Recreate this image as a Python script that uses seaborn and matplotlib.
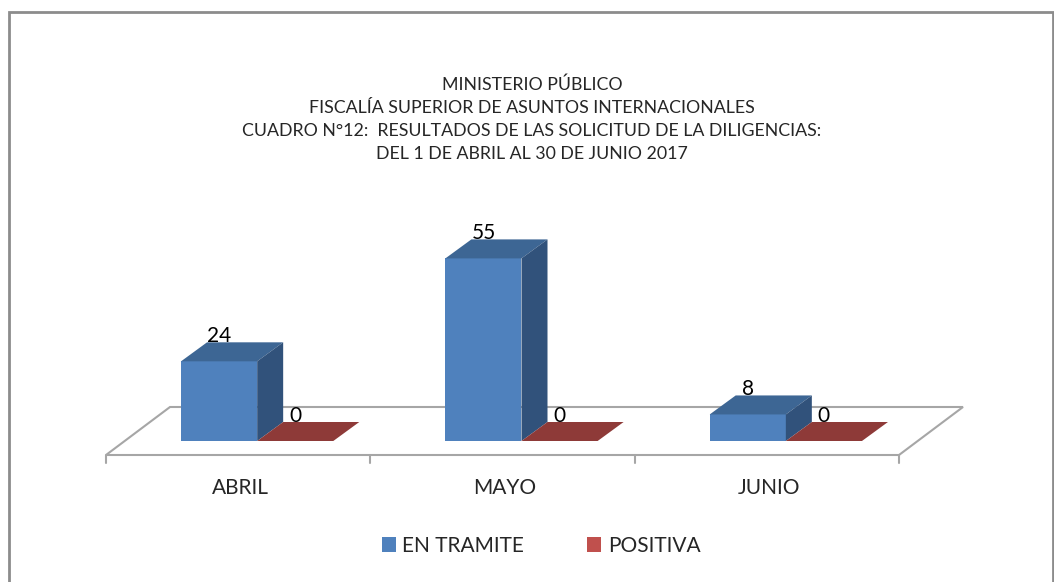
import pandas as pd
import matplotlib
matplotlib.use("Agg")
import matplotlib.pyplot as plt
import seaborn as sns
from matplotlib.patches import Polygon, Rectangle
from matplotlib.transforms import IdentityTransform, offset_copy

# Datos del cuadro
meses = ["ABRIL", "MAYO", "JUNIO"]
en_tramite = [24, 55, 8]
positiva = [0, 0, 0]
estados = ["EN TRAMITE", "POSITIVA"]
titulo = [
    "MINISTERIO PÚBLICO",
    "FISCALÍA SUPERIOR DE ASUNTOS INTERNACIONALES",
    "CUADRO N°12:  RESULTADOS DE LAS SOLICITUD DE LA DILIGENCIAS:",
    "DEL 1 DE ABRIL AL 30 DE JUNIO 2017",
]

df = pd.DataFrame({
    "Mes": meses * 2,
    "Estado": [estados[0]] * 3 + [estados[1]] * 3,
    "Valor": en_tramite + positiva,
})

sns.set_style("white")
plt.rcParams["font.family"] = ["Lato", "DejaVu Sans"]

W, H = 1054, 582
fig = plt.figure(figsize=(W / 100, H / 100), dpi=100)
fig.patch.set_facecolor("white")

# eje = plano frontal de las barras
ax = fig.add_axes([125 / W, 141 / H, 793 / W, 199.2 / H])
frente = ["#4F81BD", "#C0504D"]
arriba = ["#3D6694", "#8E3A38"]
lado = ["#31527B", "#7A302E"]
sns.barplot(data=df, x="Mes", y="Valor", hue="Estado", palette=frente,
            width=0.576, saturation=1, linewidth=0, ax=ax, legend=False)
ax.set_xlim(-0.5, 2.5)
ax.set_ylim(0, 60)
ax.axis("off")

def disp(x, y):
    return ax.transData.transform((x, y))

# piso en perspectiva
ident = IdentityTransform()
x0, y0 = disp(-0.5, 0)
x1, _ = disp(2.5, 0)
fd, bd = (-19, -14), (45, 34)
piso = [(x0 + fd[0], y0 + fd[1]), (x1 + fd[0], y0 + fd[1]),
        (x1 + bd[0], y0 + bd[1]), (x0 + bd[0], y0 + bd[1])]
ax.add_patch(Polygon(piso, closed=True, facecolor="white", edgecolor="#A6A6A6",
                     linewidth=1.5, transform=ident, clip_on=False, zorder=0.5))
for k in range(4):
    tx, ty = disp(-0.5 + k, 0)
    ax.plot([tx + fd[0], tx + fd[0]], [ty + fd[1], ty + fd[1] - 8],
            color="#A6A6A6", linewidth=1.5, transform=ident, clip_on=False)

# caras superior y lateral de cada barra
d = (26, 19)
for i, cont in enumerate(ax.containers):
    for p in cont.patches:
        bx, by, bw, bh = p.get_x(), p.get_y(), p.get_width(), p.get_height()
        tl = disp(bx, by + bh)
        tr = disp(bx + bw, by + bh)
        br = disp(bx + bw, by)
        top = [tl, tr, (tr[0] + d[0], tr[1] + d[1]), (tl[0] + d[0], tl[1] + d[1])]
        ax.add_patch(Polygon(top, closed=True, facecolor=arriba[i], linewidth=0,
                             transform=ident, clip_on=False, zorder=2))
        if bh > 0:
            side = [br, tr, (tr[0] + d[0], tr[1] + d[1]), (br[0] + d[0], br[1] + d[1])]
            ax.add_patch(Polygon(side, closed=True, facecolor=lado[i], linewidth=0,
                                 transform=ident, clip_on=False, zorder=2))
        ax.text(bx + bw / 2, by + bh, f"{int(bh)}",
                transform=offset_copy(ax.transData, fig=fig, x=0, y=25, units="dots"),
                ha="center", va="center", fontsize=15, color="black", zorder=3)

# etiquetas de categoría
lab_tr = offset_copy(ax.transData, fig=fig, x=-17, y=-47, units="dots")
for k, m in enumerate(meses):
    ax.text(k, 0, m, transform=lab_tr, ha="center", va="center", fontsize=15)

# título
for k, linea in enumerate(titulo):
    fig.text(532 / W, 1 - (85 + 23 * k) / H, linea, ha="center", va="center",
             fontsize=12.8)

# leyenda
handles = [Rectangle((0, 0), 1, 1, facecolor=c, linewidth=0) for c in frente]
fig.legend(handles, estados, loc="center", bbox_to_anchor=(541 / W, 1 - 546 / H),
           ncol=2, frameon=False, fontsize=15, handlelength=0.7, handleheight=0.7,
           handletextpad=0.3, columnspacing=3.0)

# marco exterior
fig.add_artist(Rectangle((8.5, -10), 1044.5, 580, fill=False, edgecolor="#8C8C8C",
                         linewidth=2, transform=ident))

fig.savefig("out.png", dpi=100)
